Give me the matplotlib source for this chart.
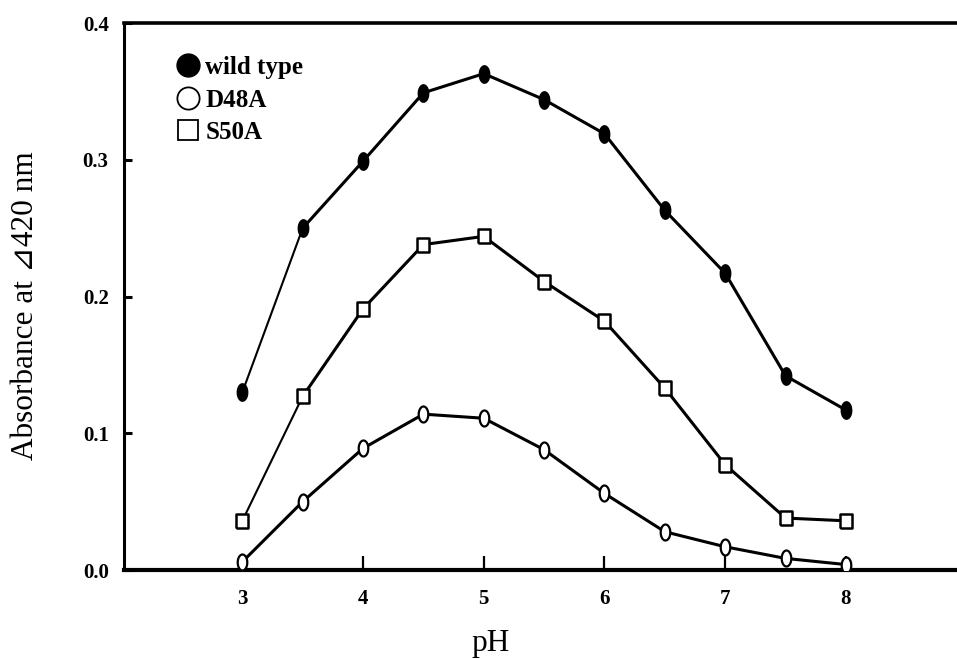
import numpy as np
import matplotlib
matplotlib.use('Agg')
import matplotlib.pyplot as plt
from matplotlib.lines import Line2D

plt.rcParams['font.family'] = ['Liberation Serif', 'DejaVu Serif', 'DejaVu Sans']

ph = [3, 3.5, 4, 4.5, 5, 5.5, 6, 6.5, 7, 7.5, 8]
wild_type = [0.130, 0.250, 0.299, 0.349, 0.363, 0.344, 0.319, 0.263, 0.217, 0.142, 0.117]
d48a = [0.006, 0.050, 0.089, 0.114, 0.111, 0.088, 0.056, 0.028, 0.017, 0.0085, 0.004]
s50a = [0.036, 0.127, 0.191, 0.238, 0.244, 0.211, 0.182, 0.133, 0.077, 0.038, 0.036]

xticks = [3, 4, 5, 6, 7, 8]
yticks = [0.0, 0.1, 0.2, 0.3, 0.4]
labels = ['wild type', 'D48A', 'S50A']

# ellipse / tall square markers (original figure is stretched vertically)
t = np.linspace(0, 2 * np.pi, 60)
ellipse = list(zip(0.6 * np.cos(t), np.sin(t)))
tallsq = [(-0.85, -1), (0.85, -1), (0.85, 1), (-0.85, 1), (-0.85, -1)]

fig = plt.figure(figsize=(9.57, 6.59), dpi=100)
ax = fig.add_axes([0.1296, 0.135, 0.8704, 0.83])

lw = 2.2
# first segments are drawn a little thinner in the original
ax.plot(ph[:2], wild_type[:2], color='black', lw=1.5, zorder=2)
ax.plot(ph[1:], wild_type[1:], color='black', lw=lw, zorder=2)
ax.plot(ph, wild_type, ls='none', marker=ellipse, markersize=12.5,
        mfc='black', mec='black', mew=1, zorder=3)

ax.plot(ph, d48a, color='black', lw=lw, marker=ellipse, markersize=11.5,
        mfc='white', mec='black', mew=1.6, zorder=3)

ax.plot(ph[:2], s50a[:2], color='black', lw=1.5, zorder=2)
ax.plot(ph[1:], s50a[1:], color='black', lw=lw, zorder=2)
ax.plot(ph, s50a, ls='none', marker=tallsq, markersize=10,
        mfc='white', mec='black', mew=1.8, zorder=3)

ax.set_xlim(2.02, 8.92)
ax.set_ylim(0, 0.4)
ax.set_xticks(xticks)
ax.set_xticklabels([str(v) for v in xticks])
ax.set_yticks(yticks)
ax.set_yticklabels(['%.1f' % v for v in yticks])

for lab in ax.get_xticklabels() + ax.get_yticklabels():
    lab.set_fontweight('bold')
    lab.set_fontsize(15)

ax.tick_params(axis='y', direction='in', length=6, width=2.2, pad=11)
ax.tick_params(axis='x', direction='in', length=10, width=1.6, pad=14)

ax.spines['right'].set_visible(False)
ax.spines['left'].set_linewidth(2.2)
ax.spines['top'].set_linewidth(2.6)
ax.spines['bottom'].set_linewidth(3)
for side in ['left', 'top', 'bottom']:
    ax.spines[side].set_capstyle('projecting')

handles = [
    Line2D([], [], ls='none', marker='o', markersize=16.5, mfc='black', mec='black'),
    Line2D([], [], ls='none', marker='o', markersize=16, mfc='white', mec='black', mew=1.3),
    Line2D([], [], ls='none', marker='s', markersize=14.5, mfc='white', mec='black', mew=1.3),
]
leg = ax.legend(handles, labels, loc='upper left', bbox_to_anchor=(0.051, 0.958),
                frameon=False, handlelength=0.9, handletextpad=0.25,
                labelspacing=0.38, borderaxespad=0,
                prop={'family': 'Liberation Serif', 'weight': 'bold', 'size': 18})

fig.text(26 / 957, 1 - 306 / 659, 'Absorbance at \u22bf420 nm', rotation=90,
         ha='center', va='center', fontsize=22.5)
fig.text(491 / 957, 1 - 643 / 659, 'pH', ha='center', va='center', fontsize=22.5)

fig.savefig('out.png', dpi=100)
